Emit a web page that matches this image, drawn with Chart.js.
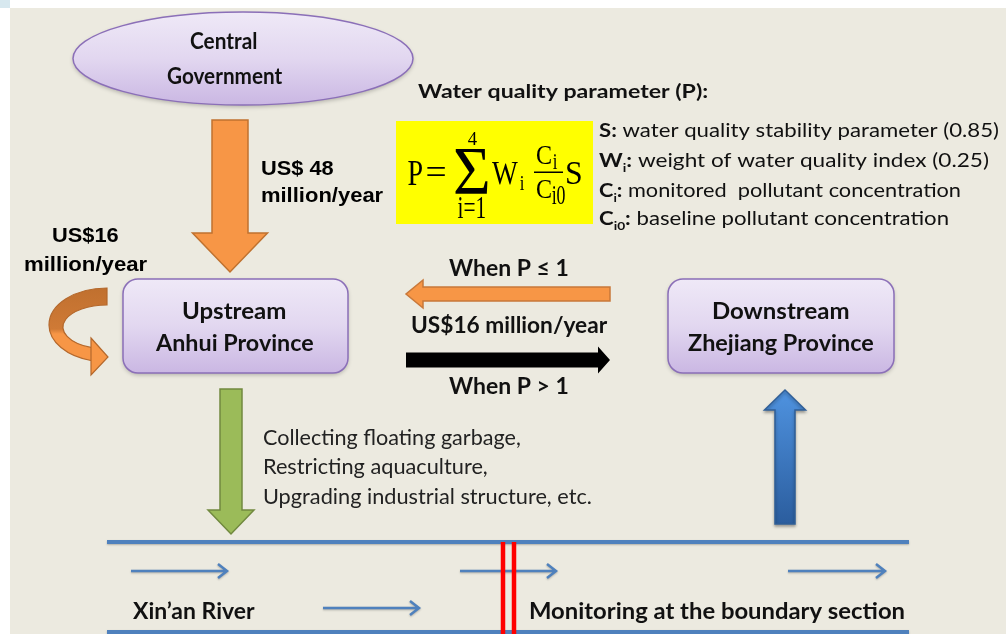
<!DOCTYPE html>
<html>
<head>
<meta charset="utf-8">
<script src="https://cdn.jsdelivr.net/npm/chart.js@4.4.0/dist/chart.umd.min.js"></script>
<style>
  html, body { margin: 0; padding: 0; background: #fff; }
  #wrap { width: 1006px; height: 634px; }
</style>
</head>
<body>
<div id="wrap"><canvas id="chart" width="1006" height="634"></canvas></div>
<script>
'use strict';

// ---- diagram content ----
const nodeNames = [['Central', 'Government'], ['Upstream', 'Anhui Province'], ['Downstream', 'Zhejiang Province']];
const centralTransfer = ['US$ 48', 'million/year'];
const upstreamShare = ['US$16', 'million/year'];
const compensation = 'US$16 million/year';
const conditions = ['When P \u2264 1', 'When P > 1'];
const formulaTitle = 'Water quality parameter (P):';
const sumBounds = ['4', 'i=1'];
const paramSymbols = [['S', ''], ['W', 'i'], ['C', 'i'], ['C', 'i0']];
const paramNotes = [
  'water quality stability parameter (0.85)',
  'weight of water quality index (0.25)',
  'monitored  pollutant concentration',
  'baseline pollutant concentration'
];
const measures = ['Collecting floating garbage,', 'Restricting aquaculture,', 'Upgrading industrial structure, etc.'];
const riverLabels = ['Xin\u2019an River', 'Monitoring at the boundary section'];

// ---- layout, in diagram units (x: 0..1006, y: 0..634 top-down) ----
const layout = {
  ellipse: { cx: 243, cy: 58.5, rx: 170, ry: 46.5 },
  boxes: [
    { x: 123, y: 279, w: 225, h: 94, r: 15 },
    { x: 668, y: 279, w: 226, h: 94, r: 15 }
  ],
  nodeText: [
    [[190, 257, 41], [167, 283, 76]],
    [[183, 286, 311], [155, 314, 343]],
    [[713, 849, 311], [688, 874, 343]]
  ],
  centralText: [[262, 334, 167], [262, 383, 194]],
  shareText: [[53, 118, 234.5], [25, 147, 263]],
  condText: [[449, 568, 268], [449, 568, 386]],
  compText: [412, 608, 325],
  title: [418, 707, 91.5],
  yellow: { x: 396, y: 121, w: 197, h: 103 },
  legend: { x: 599, right: [999, 989, 961, 949], y: [130, 160, 190, 218] },
  measureText: { x: 264, right: [520, 487, 591], y: [437.5, 466.5, 496] },
  riverText: [[133, 255, 611], [530, 904, 611]],
  arrows: {
    central: { from: [230, 120], to: [230, 272], shaft: 36, head: 75, headLen: 39 },
    pay: { from: [610, 294], to: [406, 294], shaft: 14, head: 28, headLen: 17 },
    fine: { from: [406, 360], to: [610, 360], shaft: 15, head: 27, headLen: 12 },
    measures: { from: [231, 389], to: [231, 534], shaft: 22, head: 46, headLen: 24 },
    water: { from: [785, 524], to: [785, 390], shaft: 20, head: 41, headLen: 20 }
  },
  loop: { cx: 107, cy: 325, rx: 58, ry: 37, icy: 327, irx: 44, iry: 22 },
  river: { x0: 107, x1: 909, top: 542, bottom: 632 },
  flows: [[131, 227, 571], [460, 556, 571], [788, 885, 571], [323, 419, 608]],
  monitors: [503, 514]
};

const SANS = '"Lato", "Open Sans", sans-serif';
const ARIAL = '"Liberation Sans", Arial, sans-serif';
const SERIF = '"Liberation Serif", "DejaVu Serif", serif';

let X = v => v, Y = v => v;

// label fitted to its ink width, vertical position by cap centre
function fitLabel(ctx, str, left, right, capMid, size, weight, family, color) {
  ctx.save();
  ctx.font = weight + ' ' + size + 'px ' + family;
  ctx.textAlign = 'left';
  ctx.textBaseline = 'alphabetic';
  ctx.fillStyle = color || '#000';
  const m = ctx.measureText(str);
  const ink = m.actualBoundingBoxLeft + m.actualBoundingBoxRight;
  const l = X(left), r = X(right);
  const k = (r - l) / ink;
  ctx.translate(l + m.actualBoundingBoxLeft * k, Y(capMid) + 0.358 * size);
  ctx.scale(k, 1);
  ctx.fillText(str, 0, 0);
  ctx.restore();
}

// glyph fitted to an ink box (used for the formula)
function fitInk(ctx, str, left, top, right, bottom) {
  ctx.save();
  ctx.font = '100px ' + SERIF;
  ctx.textAlign = 'left';
  ctx.textBaseline = 'alphabetic';
  ctx.fillStyle = '#000';
  const m = ctx.measureText(str);
  const w = m.actualBoundingBoxLeft + m.actualBoundingBoxRight;
  const h = m.actualBoundingBoxAscent + m.actualBoundingBoxDescent;
  const sx = (X(right) - X(left)) / w, sy = (Y(bottom) - Y(top)) / h;
  ctx.translate(X(left) + m.actualBoundingBoxLeft * sx, Y(top) + m.actualBoundingBoxAscent * sy);
  ctx.scale(sx, sy);
  ctx.fillText(str, 0, 0);
  ctx.restore();
}

function blockArrow(ctx, a, fill, stroke) {
  const x0 = X(a.from[0]), y0 = Y(a.from[1]), x1 = X(a.to[0]), y1 = Y(a.to[1]);
  const len = Math.hypot(x1 - x0, y1 - y0);
  const ux = (x1 - x0) / len, uy = (y1 - y0) / len, nx = -uy, ny = ux;
  const bx = x1 - ux * a.headLen, by = y1 - uy * a.headLen;
  const s = a.shaft / 2, h = a.head / 2;
  ctx.beginPath();
  ctx.moveTo(x0 + nx * s, y0 + ny * s);
  ctx.lineTo(bx + nx * s, by + ny * s);
  ctx.lineTo(bx + nx * h, by + ny * h);
  ctx.lineTo(x1, y1);
  ctx.lineTo(bx - nx * h, by - ny * h);
  ctx.lineTo(bx - nx * s, by - ny * s);
  ctx.lineTo(x0 - nx * s, y0 - ny * s);
  ctx.closePath();
  ctx.fillStyle = fill;
  ctx.fill();
  if (stroke) {
    ctx.lineWidth = 1.5;
    ctx.strokeStyle = stroke;
    ctx.stroke();
  }
}

function lilac(ctx, top, bottom) {
  const g = ctx.createLinearGradient(0, top, 0, bottom);
  g.addColorStop(0, '#efe9f7');
  g.addColorStop(0.5, '#e2d7f0');
  g.addColorStop(1, '#cab7e3');
  return g;
}

const diagram = {
  id: 'diagram',
  beforeDraw(chart) {
    const ctx = chart.ctx;
    X = v => chart.scales.x.getPixelForValue(v);
    Y = v => chart.scales.y.getPixelForValue(v);
    ctx.save();
    ctx.fillStyle = '#ffffff';
    ctx.fillRect(0, 0, chart.width, chart.height);
    ctx.fillStyle = '#eceae0';
    ctx.fillRect(X(10), Y(8), chart.width - X(10), chart.height - Y(8));
    ctx.fillStyle = '#d7e8ef';
    ctx.fillRect(0, 0, X(10), Y(8));
    ctx.restore();
  },
  afterDatasetsDraw(chart) {
    const ctx = chart.ctx;
    const A = layout.arrows;
    ctx.save();

    // central government ellipse
    const e = layout.ellipse;
    ctx.save();
    ctx.shadowColor = 'rgba(0,0,0,0.25)';
    ctx.shadowBlur = 4;
    ctx.shadowOffsetY = 2;
    ctx.beginPath();
    ctx.ellipse(X(e.cx), Y(e.cy), e.rx, e.ry, 0, 0, Math.PI * 2);
    ctx.fillStyle = lilac(ctx, Y(e.cy - e.ry), Y(e.cy + e.ry));
    ctx.fill();
    ctx.restore();
    ctx.lineWidth = 1.5;
    ctx.strokeStyle = '#8b6fb8';
    ctx.stroke();

    // province boxes
    layout.boxes.forEach(b => {
      ctx.save();
      ctx.shadowColor = 'rgba(0,0,0,0.25)';
      ctx.shadowBlur = 4;
      ctx.shadowOffsetY = 2;
      ctx.beginPath();
      ctx.roundRect(X(b.x), Y(b.y), b.w, b.h, b.r);
      ctx.fillStyle = lilac(ctx, Y(b.y), Y(b.y + b.h));
      ctx.fill();
      ctx.restore();
      ctx.lineWidth = 1.5;
      ctx.strokeStyle = '#8b6fb8';
      ctx.stroke();
    });

    nodeNames.forEach((lines, i) => {
      lines.forEach((t, j) => {
        const p = layout.nodeText[i][j];
        fitLabel(ctx, t, p[0], p[1], p[2], 22, 'bold', SANS, '#111');
      });
    });

    // block arrows
    blockArrow(ctx, A.central, '#f79646', '#c0722f');
    blockArrow(ctx, A.pay, '#f79646', '#c8783a');
    blockArrow(ctx, A.fine, '#000000', null);
    blockArrow(ctx, A.measures, '#9bbb59', '#71893f');
    ctx.save();
    ctx.shadowColor = 'rgba(0,0,0,0.3)';
    ctx.shadowBlur = 3;
    ctx.shadowOffsetY = 2;
    const bg = ctx.createLinearGradient(0, Y(390), 0, Y(524));
    bg.addColorStop(0, '#4f93e0');
    bg.addColorStop(1, '#2b5d9e');
    blockArrow(ctx, A.water, bg, '#2f5f98');
    ctx.restore();

    // loop arrow (upstream keeps part of the money)
    const L = layout.loop;
    const cx = X(L.cx), endX = X(92);
    const a0 = Math.acos((endX - cx) / L.rx);
    const a1 = Math.acos((endX - cx) / L.irx);
    const lg = ctx.createLinearGradient(0, Y(288), 0, Y(370));
    lg.addColorStop(0, '#c0702f');
    lg.addColorStop(0.5, '#cf7a36');
    lg.addColorStop(0.56, '#f79646');
    lg.addColorStop(1, '#f79646');
    ctx.beginPath();
    ctx.ellipse(cx, Y(L.cy), L.rx, L.ry, 0, -Math.PI / 2, a0, true);
    ctx.ellipse(cx, Y(L.icy), L.irx, L.iry, 0, a1, -Math.PI / 2, false);
    ctx.closePath();
    ctx.fillStyle = lg;
    ctx.fill();
    ctx.lineWidth = 1.2;
    ctx.strokeStyle = '#b4682c';
    ctx.stroke();
    ctx.beginPath();
    ctx.moveTo(X(91), Y(338));
    ctx.lineTo(X(108), Y(357));
    ctx.lineTo(X(91), Y(375));
    ctx.closePath();
    ctx.fillStyle = '#f79646';
    ctx.fill();
    ctx.stroke();

    // money labels
    centralTransfer.forEach((t, i) => {
      const p = layout.centralText[i];
      fitLabel(ctx, t, p[0], p[1], p[2], 21, 'bold', ARIAL);
    });
    upstreamShare.forEach((t, i) => {
      const p = layout.shareText[i];
      fitLabel(ctx, t, p[0], p[1], p[2], 21, 'bold', ARIAL);
    });
    conditions.forEach((t, i) => {
      const p = layout.condText[i];
      fitLabel(ctx, t, p[0], p[1], p[2], 22, 'bold', SANS, '#111');
    });
    const cp = layout.compText;
    fitLabel(ctx, compensation, cp[0], cp[1], cp[2], 22, 'bold', SANS, '#111');

    // formula
    const t = layout.title;
    fitLabel(ctx, formulaTitle, t[0], t[1], t[2], 19.5, 'bold', SANS, '#111');
    const yb = layout.yellow;
    ctx.fillStyle = '#ffff00';
    ctx.fillRect(X(yb.x), Y(yb.y), yb.w, yb.h);
    fitInk(ctx, 'P', 408, 162, 422, 185);
    fitInk(ctx, '=', 427, 167, 445, 176);
    fitInk(ctx, '\u03A3', 455, 149, 488, 194);
    fitInk(ctx, sumBounds[0], 468, 133, 477, 145);
    fitInk(ctx, sumBounds[1], 458, 197, 485, 218);
    fitInk(ctx, 'W', 492, 162, 518, 185);
    fitInk(ctx, 'i', 520, 176, 524, 190);
    fitInk(ctx, 'C', 537, 147, 551, 165);
    fitInk(ctx, 'i', 553, 154, 557, 169);
    ctx.fillStyle = '#000';
    ctx.fillRect(X(534), Y(171.5), 29, 1.5);
    fitInk(ctx, 'C', 537, 180, 551, 199);
    fitInk(ctx, 'i0', 552, 187, 565, 205);
    fitInk(ctx, 'S', 567, 162, 581, 185);

    // parameter notes
    const lg2 = layout.legend;
    paramSymbols.forEach((sym, i) => {
      const size = 19.5;
      const parts = [
        { s: sym[0], f: 'bold ' + size + 'px ' + SANS, dy: 0 },
        { s: sym[1], f: 'bold ' + (size * 0.62) + 'px ' + SANS, dy: 5 },
        { s: ':', f: 'bold ' + size + 'px ' + SANS, dy: 0 },
        { s: ' ' + paramNotes[i], f: size + 'px ' + SANS, dy: 0 }
      ];
      let total = 0;
      parts.forEach(p => { ctx.font = p.f; p.w = ctx.measureText(p.s).width; total += p.w; });
      const k = (X(lg2.right[i]) - X(lg2.x)) / total;
      ctx.save();
      ctx.translate(X(lg2.x), Y(lg2.y[i]) + 0.358 * size);
      ctx.scale(k, 1);
      ctx.fillStyle = '#111';
      ctx.textAlign = 'left';
      ctx.textBaseline = 'alphabetic';
      let cx2 = 0;
      parts.forEach(p => { ctx.font = p.f; ctx.fillText(p.s, cx2, p.dy); cx2 += p.w; });
      ctx.restore();
    });

    // measures taken upstream
    const mt = layout.measureText;
    measures.forEach((s, i) => {
      fitLabel(ctx, s, mt.x, mt.right[i], mt.y[i], 21, 'normal', SANS, '#222');
    });

    // river
    const rv = layout.river;
    ctx.save();
    ctx.shadowColor = 'rgba(0,0,0,0.25)';
    ctx.shadowBlur = 2;
    ctx.shadowOffsetY = 1;
    ctx.strokeStyle = '#4f81bd';
    ctx.lineWidth = 4;
    [rv.top, rv.bottom].forEach(yv => {
      ctx.beginPath();
      ctx.moveTo(X(rv.x0), Y(yv));
      ctx.lineTo(X(rv.x1), Y(yv));
      ctx.stroke();
    });
    ctx.lineWidth = 2.5;
    layout.flows.forEach(f => {
      ctx.beginPath();
      ctx.moveTo(X(f[0]), Y(f[2]));
      ctx.lineTo(X(f[1]), Y(f[2]));
      ctx.moveTo(X(f[1]) - 9, Y(f[2]) - 7);
      ctx.lineTo(X(f[1]), Y(f[2]));
      ctx.lineTo(X(f[1]) - 9, Y(f[2]) + 7);
      ctx.stroke();
    });
    ctx.restore();

    ctx.strokeStyle = '#ff0000';
    ctx.lineWidth = 4.5;
    layout.monitors.forEach(xv => {
      ctx.beginPath();
      ctx.moveTo(X(xv), Y(rv.top));
      ctx.lineTo(X(xv), chart.height);
      ctx.stroke();
    });

    riverLabels.forEach((s, i) => {
      const p = layout.riverText[i];
      fitLabel(ctx, s, p[0], p[1], p[2], 23, 'bold', SANS, '#111');
    });

    ctx.restore();
  }
};

// node centres as the chart's only dataset
const nodePoints = [
  { x: layout.ellipse.cx, y: layout.ellipse.cy },
  { x: layout.boxes[0].x + layout.boxes[0].w / 2, y: layout.boxes[0].y + layout.boxes[0].h / 2 },
  { x: layout.boxes[1].x + layout.boxes[1].w / 2, y: layout.boxes[1].y + layout.boxes[1].h / 2 }
];

const ctx = document.getElementById('chart').getContext('2d');
new Chart(ctx, {
  type: 'scatter',
  data: {
    datasets: [{
      label: 'nodes',
      data: nodePoints,
      pointRadius: 0,
      pointHoverRadius: 0
    }]
  },
  options: {
    responsive: false,
    animation: false,
    devicePixelRatio: 1,
    events: [],
    layout: { padding: 0 },
    plugins: {
      legend: { display: false },
      tooltip: { enabled: false }
    },
    scales: {
      x: { type: 'linear', min: 0, max: 1006, display: false },
      y: { type: 'linear', min: 0, max: 634, reverse: true, display: false }
    }
  },
  plugins: [diagram]
});
</script>
</body>
</html>
